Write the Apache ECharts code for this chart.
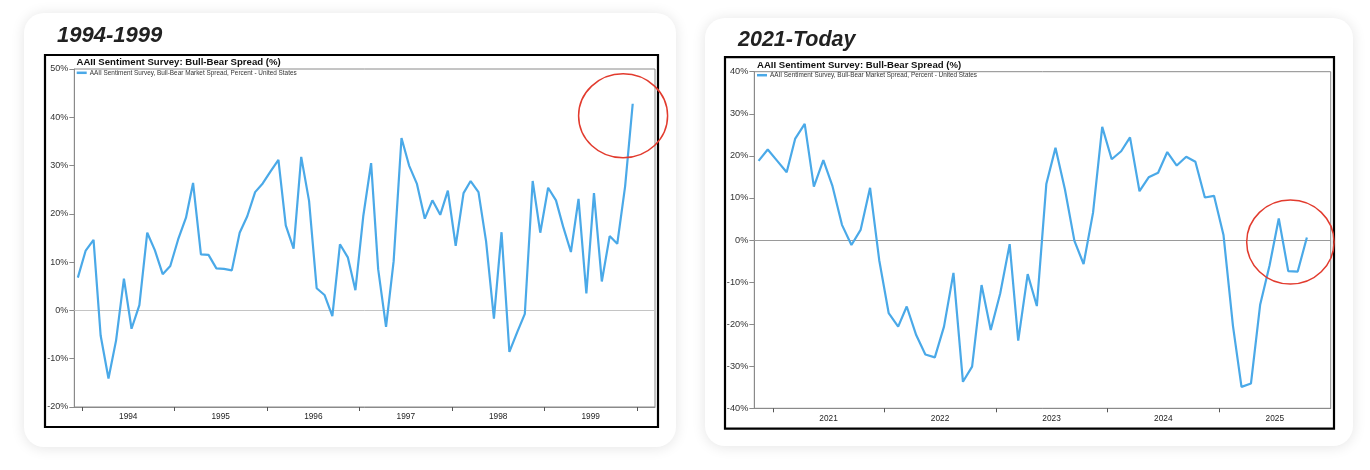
<!DOCTYPE html>
<html><head><meta charset="utf-8">
<script src="https://cdn.jsdelivr.net/npm/echarts@6/dist/echarts.min.js"></script>
<style>html,body{margin:0;padding:0;background:#fff}#c{width:1370px;height:470px}</style>
</head><body><div id="c"></div>
<script>
const FONT = '"Liberation Sans", Arial, sans-serif';
const panelTitles = ['1994-1999', '2021-Today'];
const chartTitle = 'AAII Sentiment Survey: Bull-Bear Spread (%)';
const seriesName = 'AAII Sentiment Survey, Bull-Bear Market Spread, Percent - United States';

// Monthly readings, left panel: Dec 1993 .. Dec 1999
const leftStart = [1993, 12];
const leftValues = [6.8, 12.4, 14.6, -5.2, -14.1, -6.2, 6.6, -3.8, 1.1, 16.1, 12.5, 7.5,
  9.2, 14.7, 19.2, 26.4, 11.6, 11.5, 8.7, 8.6, 8.3, 16.1, 19.5, 24.5,
  26.3, 28.8, 31.2, 17.6, 12.8, 31.8, 22.7, 4.6, 3.2, -1.2, 13.7, 11.0,
  4.2, 19.5, 30.5, 8.5, -3.4, 10.2, 35.7, 30.0, 26.2, 19.0, 22.8, 19.8,
  24.8, 13.4, 24.3, 26.8, 24.5, 14.3, -1.7, 16.2, -8.6, -4.5, -0.7, 26.8,
  16.1, 25.4, 22.8, 17.4, 12.1, 23.1, 3.5, 24.3, 6.0, 15.4, 13.8, 25.7, 42.8];

// Monthly readings, right panel: Nov 2020 .. Oct 2025
const rightStart = [2020, 11];
const rightValues = [18.8, 21.5, 18.8, 16.1, 24.1, 27.6, 12.7, 19.0, 12.8, 3.6, -1.2, 2.4,
  12.4, -4.8, -17.4, -20.6, -15.8, -22.6, -27.2, -27.9, -20.6, -7.8, -33.7, -30.1,
  -10.7, -21.4, -12.7, -1.0, -23.9, -8.1, -15.7, 13.3, 21.9, 12.0, -0.2, -5.7,
  6.5, 26.9, 19.2, 21.1, 24.4, 11.6, 14.9, 16.0, 20.9, 17.7, 19.8, 18.6,
  10.1, 10.5, 1.2, -20.4, -34.9, -34.1, -15.4, -6.0, 5.1, -7.4, -7.5, 0.6];

const leftYearTicks = [1994, 1995, 1996, 1997, 1998, 1999, 2000];
const leftYearLabels = [1994, 1995, 1996, 1997, 1998, 1999];
const rightYearTicks = [2021, 2022, 2023, 2024, 2025];
const rightYearLabels = [2021, 2022, 2023, 2024, 2025];
const leftRange = [[1993, 12, 1], [2000, 3, 12]];
const rightRange = [[2020, 11, 1], [2026, 1, 1]];
const leftY = [-20, 50, 10];
const rightY = [-40, 40, 10];
// highlight circles centred in data space: [year, month, day, value]
const leftHighlight = [1999, 11, 7, 40.3];
const rightHighlight = [2025, 8, 22, -0.5];

function monthly(start, vals) {
  return vals.map((v, i) => {
    const m = start[1] - 1 + i;
    return [Date.UTC(start[0] + Math.floor(m / 12), m % 12, 15), v];
  });
}
const d = a => Date.UTC(a[0], a[1] - 1, a[2]);
const yearStart = y => Date.UTC(y, 0, 1);
const midYear = y => Date.UTC(y, 6, 2);

const lineColor = '#4aa9e8';

function xAxisFor(gi, range, ticks, labels) {
  return {
    type: 'value', gridIndex: gi, min: d(range[0]), max: d(range[1]), scale: true,
    axisLine: { show: true, onZero: false, lineStyle: { color: '#8a8a8a', width: 1 } },
    axisTick: { show: true, length: 4, inside: false, lineStyle: { color: '#555' },
      customValues: ticks.map(yearStart) },
    axisLabel: { show: true, customValues: labels.map(midYear), margin: 6,
      fontSize: 8.3, color: '#222', fontFamily: FONT,
      formatter: v => String(new Date(v).getUTCFullYear()) },
    splitLine: { show: false }, minorTick: { show: false }
  };
}
function yAxisFor(gi, r, fs) {
  return {
    type: 'value', gridIndex: gi, min: r[0], max: r[1], interval: r[2],
    axisLine: { show: true, onZero: false, lineStyle: { color: '#8a8a8a' } },
    axisTick: { show: true, length: 5, lineStyle: { color: '#8a8a8a' } },
    axisLabel: { formatter: '{value}%', margin: 6, fontSize: fs, color: '#333', fontFamily: FONT },
    splitLine: { show: false }
  };
}
function seriesFor(gi, data, zeroColor) {
  return {
    type: 'line', name: seriesName, xAxisIndex: gi, yAxisIndex: gi, data: data,
    showSymbol: false, symbol: 'none', smooth: false,
    lineStyle: { color: lineColor, width: 2.2 }, itemStyle: { color: lineColor },
    z: 5,
    markLine: { silent: true, symbol: 'none', label: { show: false }, animation: false,
      lineStyle: { color: zeroColor, width: 1, type: 'solid' }, data: [{ yAxis: 0 }], z: 3 }
  };
}

const chart = echarts.init(document.getElementById('c'), null, { renderer: 'canvas' });
const option = {
  backgroundColor: '#ffffff',
  animation: false,
  textStyle: { fontFamily: FONT },
  title: [
    { text: panelTitles[0], left: 57, top: 25, padding: 0,
      textStyle: { fontSize: 22, fontStyle: 'italic', fontWeight: 'bold', color: '#222', fontFamily: FONT } },
    { text: panelTitles[1], left: 738, top: 29.5, padding: 0,
      textStyle: { fontSize: 21.5, fontStyle: 'italic', fontWeight: 'bold', color: '#222', fontFamily: FONT } },
    { text: chartTitle, left: 76.5, top: 57, padding: 0,
      textStyle: { fontSize: 9.6, fontWeight: 'bold', color: '#111', fontFamily: FONT } },
    { text: chartTitle, left: 757, top: 60, padding: 0,
      textStyle: { fontSize: 9.6, fontWeight: 'bold', color: '#111', fontFamily: FONT } }
  ],
  legend: [
    { data: [seriesName], left: 76.7, top: 69.8, padding: 0, icon: 'rect', itemWidth: 10, itemHeight: 2.5,
      selectedMode: false, textStyle: { fontSize: 6.4, color: '#333', fontFamily: FONT, padding: [0, 0, 0, -2] } },
    { data: [seriesName], left: 757, top: 72.2, padding: 0, icon: 'rect', itemWidth: 10, itemHeight: 2.5,
      selectedMode: false, textStyle: { fontSize: 6.4, color: '#333', fontFamily: FONT, padding: [0, 0, 0, -2] } }
  ],
  grid: [
    { left: 74.3, top: 69, width: 580.7, height: 338, show: true, borderColor: '#8a8a8a', borderWidth: 1, backgroundColor: 'transparent' },
    { left: 754.3, top: 71.7, width: 576.4, height: 336.6, show: true, borderColor: '#8a8a8a', borderWidth: 1, backgroundColor: 'transparent' }
  ],
  xAxis: [
    xAxisFor(0, leftRange, leftYearTicks, leftYearLabels),
    xAxisFor(1, rightRange, rightYearTicks, rightYearLabels)
  ],
  yAxis: [yAxisFor(0, leftY, 9), yAxisFor(1, rightY, 9.2)],
  series: [
    seriesFor(0, monthly(leftStart, leftValues), '#c4c4c4'),
    seriesFor(1, monthly(rightStart, rightValues), '#9a9a9a')
  ],
  graphic: [
    { id: 'card0', type: 'rect', z: -10, silent: true,
      shape: { x: 24, y: 13, width: 652, height: 434, r: 20 },
      style: { fill: '#fff', shadowBlur: 14, shadowColor: 'rgba(0,0,0,0.11)', shadowOffsetY: 1 } },
    { id: 'card1', type: 'rect', z: -10, silent: true,
      shape: { x: 705, y: 18, width: 648, height: 428, r: 20 },
      style: { fill: '#fff', shadowBlur: 14, shadowColor: 'rgba(0,0,0,0.11)', shadowOffsetY: 1 } },
    { id: 'box0', type: 'rect', z: -5, silent: true,
      shape: { x: 45, y: 55, width: 613, height: 372 },
      style: { fill: '#fff', stroke: '#000', lineWidth: 2.2 } },
    { id: 'box1', type: 'rect', z: -5, silent: true,
      shape: { x: 725, y: 57.2, width: 609, height: 371.5 },
      style: { fill: '#fff', stroke: '#000', lineWidth: 2.2 } }
  ]
};
chart.setOption(option);

const p0 = chart.convertToPixel({ gridIndex: 0 }, [d(leftHighlight), leftHighlight[3]]);
const p1 = chart.convertToPixel({ gridIndex: 1 }, [d(rightHighlight), rightHighlight[3]]);
chart.setOption({
  graphic: [
    { id: 'hl0', type: 'ellipse', z: 100, silent: true,
      shape: { cx: p0[0], cy: p0[1], rx: 44.5, ry: 42 },
      style: { fill: 'none', stroke: '#e23b2e', lineWidth: 1.5 } },
    { id: 'hl1', type: 'ellipse', z: 100, silent: true,
      shape: { cx: p1[0], cy: p1[1], rx: 43.7, ry: 42 },
      style: { fill: 'none', stroke: '#e23b2e', lineWidth: 1.5 } }
  ]
});
</script></body></html>
